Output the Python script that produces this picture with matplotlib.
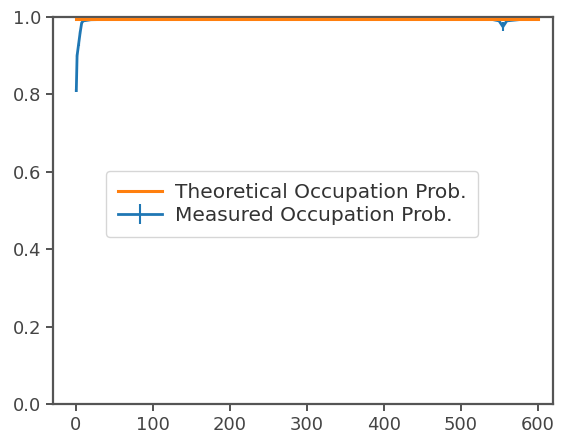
import matplotlib
matplotlib.use("Agg")
import matplotlib.pyplot as plt

# Theoretical occupation probability (flat)
theory_x = [0, 600]
theory_y = [0.995, 0.995]

# Measured occupation probability with uncertainties
meas_x = [1, 2, 4, 6, 8, 10, 20, 50, 100, 150, 200, 250, 300, 350, 400,
          450, 500, 540, 550, 555, 560, 580, 600]
meas_y = [0.81, 0.90, 0.93, 0.96, 0.985, 0.99, 0.993, 0.994, 0.994, 0.994,
          0.994, 0.994, 0.994, 0.994, 0.994, 0.994, 0.994, 0.994, 0.99,
          0.975, 0.99, 0.994, 0.994]
meas_err = [0.004, 0.004, 0.004, 0.004, 0.003, 0.003, 0.002, 0.002, 0.002,
            0.002, 0.002, 0.002, 0.002, 0.002, 0.002, 0.002, 0.002, 0.002,
            0.004, 0.012, 0.004, 0.002, 0.002]

fig = plt.figure(figsize=(5.66, 4.36), dpi=100)
ax = fig.add_axes([0.094, 0.073, 0.883, 0.888])

ax.plot(theory_x, theory_y, color="#ff7f0e", lw=2.2, zorder=3,
        label="Theoretical Occupation Prob.")
ax.errorbar(meas_x, meas_y, yerr=meas_err, color="#1f77b4", lw=2.0,
            elinewidth=1.5, zorder=2, label="Measured Occupation Prob.")

ax.set_ylim(0, 1.0)
ax.set_xlim(-29, 620)
ax.set_xticks([0, 100, 200, 300, 400, 500, 600])
ax.set_yticks([0.0, 0.2, 0.4, 0.6, 0.8, 1.0])
ax.tick_params(labelsize=13, length=5, width=1.3, colors="#444444")
for sp in ax.spines.values():
    sp.set_linewidth(1.6)
    sp.set_color("#555555")

leg = ax.legend(loc="center", bbox_to_anchor=(0.478, 0.517), fontsize=14.5,
                handlelength=2.2, borderpad=0.6, labelspacing=0.2,
                handletextpad=0.6)
for t in leg.get_texts():
    t.set_color("#333333")

fig.savefig("out.png", dpi=100)
